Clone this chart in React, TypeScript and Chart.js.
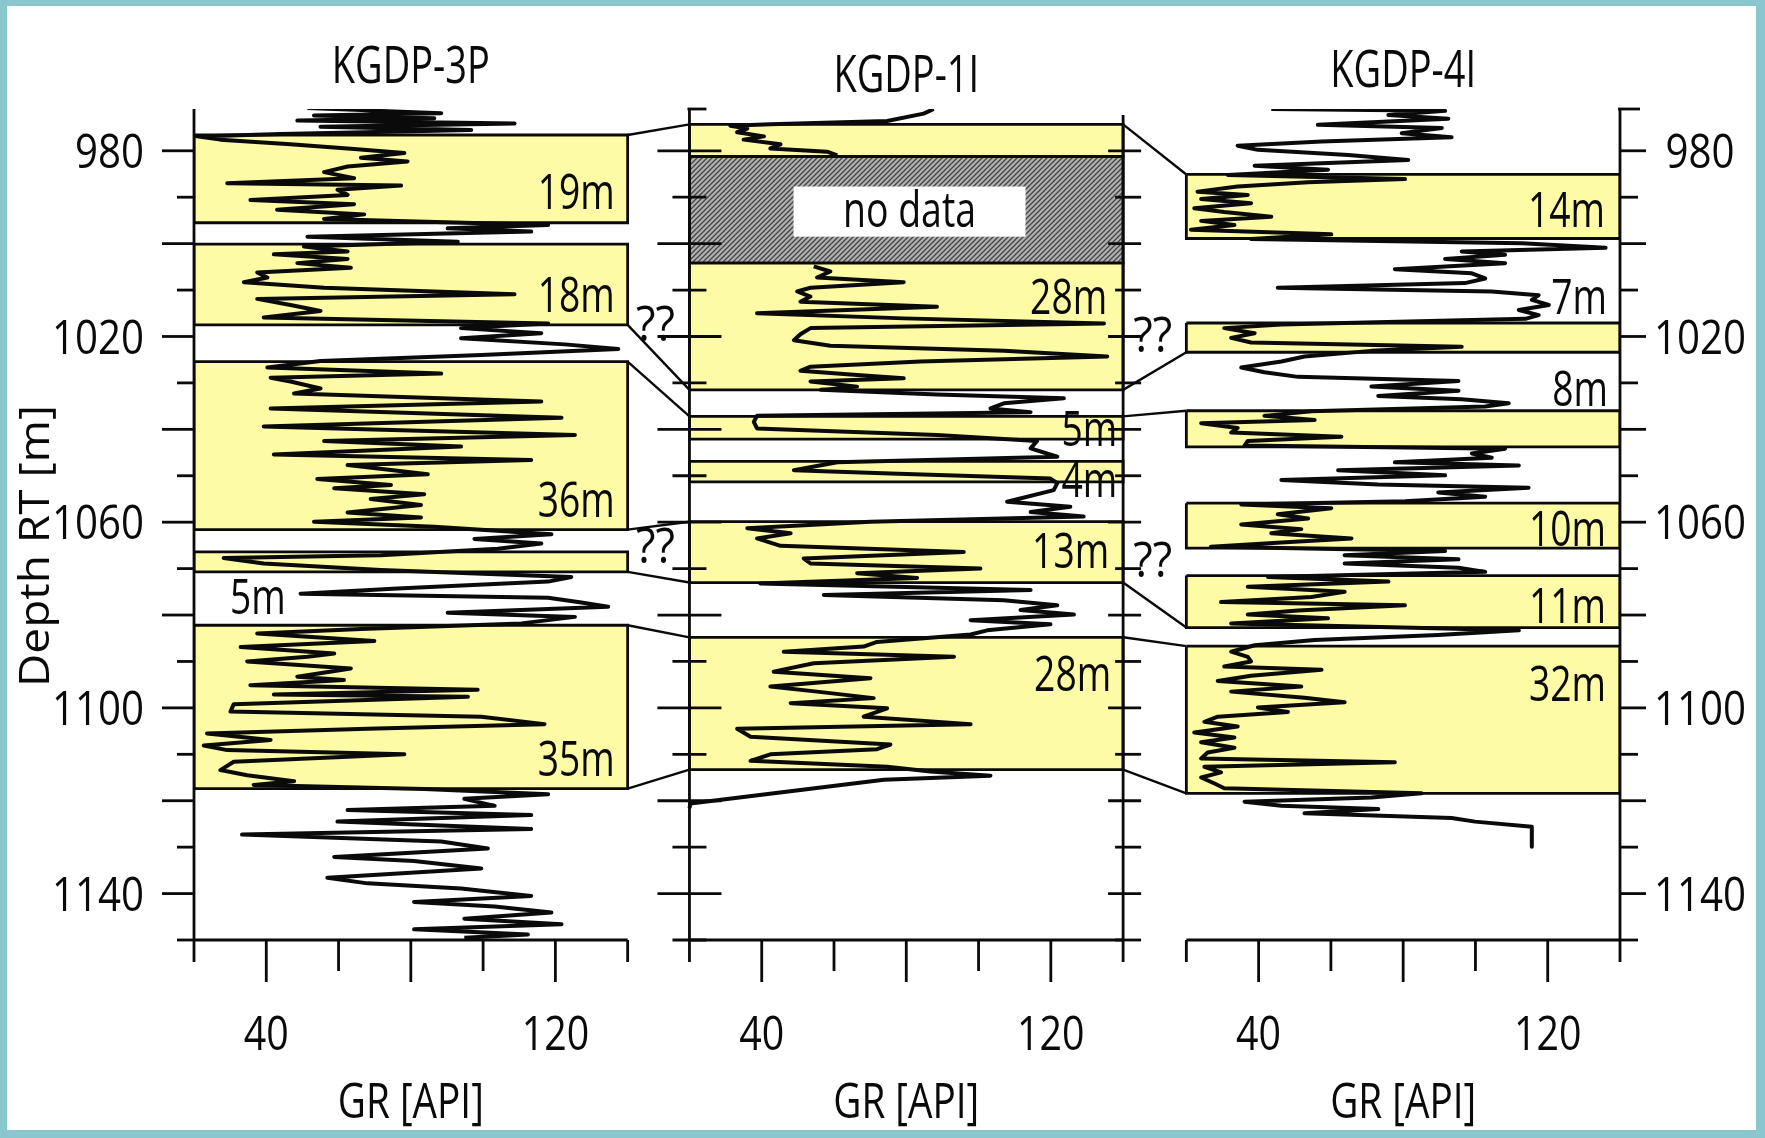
import { useEffect, useRef } from 'react';
import { Chart, registerables } from 'chart.js';

Chart.register(...registerables);

// ---------------- data ----------------
const WELL_NAMES = ['KGDP-3P', 'KGDP-1I', 'KGDP-4I'];
const DEPTH_TICKS = [980, 990, 1000, 1010, 1020, 1030, 1040, 1050, 1060, 1070, 1080, 1090, 1100, 1110, 1120, 1130, 1140, 1150];
const DEPTH_LABELS = [980, 1020, 1060, 1100, 1140];
const GR_TICKS = [20, 40, 60, 80, 100, 120, 140];
const GR_LABELS = [40, 120];
const GR_TITLE = 'GR [API]';
const DEPTH_TITLE = 'Depth RT [m]';
const NO_DATA_TEXT = 'no data';

// [depth m, GR API]
const KGDP3P_LOG = [
  [970.8, 51.4], [971.2, 66.2], [971.5, 73.6], [971.9, 88.4], [972.4, 53.2], [973.0, 86.5], [973.5, 48.6], [974.1, 108.7],
  [974.8, 55.0], [975.5, 96.7], [976.4, 44.0], [976.9, 20.8], [977.6, 27.3], [978.6, 46.7], [979.6, 64.3], [980.5, 78.2],
  [981.5, 66.2], [982.3, 79.1], [983.4, 62.5], [984.6, 56.0], [985.9, 64.3], [987.0, 29.2], [987.5, 77.3], [988.4, 59.7],
  [989.5, 62.5], [990.6, 35.6], [991.5, 64.3], [992.7, 43.0], [993.7, 67.1], [994.7, 56.0], [996.0, 118.0], [996.7, 90.2],
  [997.4, 113.3], [998.5, 51.4], [999.6, 93.0], [1000.6, 50.4], [1001.7, 62.5], [1002.3, 42.1], [1003.3, 62.5], [1004.2, 48.6],
  [1005.2, 63.4], [1006.2, 37.5], [1007.3, 40.3], [1008.3, 33.8], [1009.5, 56.0], [1010.9, 108.7], [1011.9, 37.5], [1013.2, 46.7],
  [1014.5, 55.0], [1015.9, 39.3], [1017.2, 118.0], [1018.2, 93.9], [1019.3, 116.1], [1020.4, 93.9], [1021.7, 122.6], [1022.7, 137.4],
  [1024.0, 99.5], [1025.3, 55.0], [1026.7, 40.3], [1028.0, 88.4], [1028.9, 41.2], [1029.7, 46.7], [1031.2, 55.0], [1032.3, 47.7],
  [1034.0, 116.1], [1035.5, 41.2], [1037.5, 121.7], [1039.4, 39.3], [1041.2, 125.4], [1042.5, 56.0], [1043.7, 93.9], [1045.4, 42.1],
  [1046.6, 113.3], [1047.7, 62.5], [1049.7, 84.7], [1050.7, 54.1], [1052.0, 74.5], [1052.7, 58.8], [1054.0, 83.7], [1055.0, 68.9],
  [1056.3, 82.8], [1057.9, 62.5], [1059.0, 82.8], [1059.9, 53.2], [1061.0, 86.5], [1062.6, 118.9], [1063.6, 97.6], [1064.6, 116.1],
  [1065.7, 104.1], [1067.1, 71.7], [1067.7, 28.2], [1068.9, 39.3], [1070.3, 71.7], [1071.8, 124.4], [1072.8, 118.0], [1074.3, 76.3],
  [1075.4, 49.5], [1076.3, 118.0], [1077.3, 127.2], [1078.2, 134.6], [1079.5, 90.2], [1080.4, 125.4], [1081.8, 110.6], [1083.0, 66.2],
  [1084.0, 37.5], [1085.6, 69.9], [1086.9, 32.9], [1088.3, 58.8], [1089.0, 51.4], [1090.0, 34.7], [1091.5, 63.4], [1093.3, 48.6],
  [1094.0, 61.5], [1095.1, 35.6], [1096.1, 98.5], [1097.1, 42.1], [1097.6, 95.8], [1099.2, 31.0], [1100.8, 30.1], [1101.9, 99.5],
  [1103.5, 117.0], [1104.5, 68.0], [1105.5, 23.6], [1106.9, 41.2], [1108.1, 22.7], [1109.1, 29.2], [1110.0, 78.2], [1111.6, 31.0],
  [1113.4, 27.3], [1114.5, 34.7], [1115.8, 47.7], [1116.6, 36.5], [1117.5, 83.7], [1118.6, 118.0], [1119.6, 94.8], [1121.1, 103.2],
  [1122.0, 62.5], [1123.1, 113.3], [1124.5, 59.7], [1126.1, 113.3], [1127.3, 33.3], [1128.8, 88.4], [1130.3, 101.3], [1132.1, 58.8],
  [1133.0, 80.9], [1134.6, 99.5], [1136.6, 56.9], [1137.8, 68.0], [1138.9, 93.9], [1140.5, 113.3], [1141.8, 80.9], [1142.8, 103.2],
  [1144.1, 118.9], [1145.4, 94.8], [1146.6, 121.7], [1147.7, 80.9], [1148.8, 112.4], [1149.5, 94.8],
];

const KGDP1I_LOG_UPPER = [
  [971.0, 87.6], [972.0, 84.8], [973.6, 74.7], [974.3, 42.4], [974.6, 31.3], [975.2, 36.0], [976.0, 33.2], [976.9, 40.6],
  [977.6, 35.0], [978.6, 45.2], [979.5, 42.4], [980.2, 58.1], [981.0, 60.9],
];

const KGDP1I_LOG = [
  [1004.9, 54.4], [1006.0, 59.0], [1007.3, 55.3], [1008.3, 79.3], [1009.5, 53.5], [1010.3, 49.8], [1011.4, 53.5], [1012.5, 50.7],
  [1013.6, 88.5], [1015.0, 38.7], [1016.1, 79.3], [1017.2, 134.7], [1018.2, 53.5], [1019.5, 50.7], [1020.8, 48.9], [1022.0, 59.0],
  [1023.1, 107.0], [1024.3, 135.6], [1025.4, 83.9], [1026.5, 53.5], [1027.4, 50.7], [1028.3, 66.4], [1029.0, 79.3], [1029.7, 53.5],
  [1030.8, 66.4], [1031.5, 56.3], [1032.5, 88.5], [1033.3, 123.6], [1034.4, 107.0], [1035.5, 103.3], [1036.3, 114.4], [1037.1, 38.7],
  [1038.4, 37.8], [1039.8, 38.7], [1041.2, 88.5], [1042.5, 116.2], [1044.1, 114.4], [1045.9, 121.8], [1047.1, 60.9], [1048.8, 48.9],
  [1049.5, 75.6], [1050.6, 119.9], [1051.6, 121.8], [1053.1, 120.8], [1055.6, 107.9], [1056.7, 125.4], [1057.8, 114.4], [1058.8, 129.1],
  [1059.9, 70.1], [1061.3, 36.0], [1062.4, 48.0], [1063.5, 38.7], [1065.1, 45.2], [1066.4, 95.9], [1067.8, 51.6], [1068.9, 53.5],
  [1070.0, 100.5], [1071.0, 66.4], [1072.0, 83.0], [1073.2, 39.6], [1074.6, 114.4], [1075.7, 57.2], [1076.8, 107.0], [1077.9, 121.8],
  [1078.9, 111.6], [1079.9, 126.4], [1081.1, 97.8], [1082.0, 119.9], [1083.3, 102.4], [1084.2, 97.8], [1085.8, 71.9], [1086.8, 68.2],
  [1087.9, 46.1], [1089.0, 93.2], [1090.4, 54.4], [1092.2, 43.3], [1093.6, 70.1], [1095.4, 42.4], [1096.5, 55.3], [1097.9, 71.0],
  [1099.0, 48.0], [1100.1, 74.7], [1101.9, 68.2], [1103.5, 97.8], [1104.5, 33.2], [1106.2, 36.9], [1107.9, 75.6], [1108.9, 71.9],
  [1110.0, 42.4], [1111.4, 36.9], [1112.7, 74.7], [1113.7, 86.7], [1114.6, 103.3], [1115.5, 73.8], [1120.6, 20.3], [1121.6, 20.0],
];

const KGDP4I_LOG = [
  [971.0, 43.5], [971.4, 91.6], [972.3, 75.9], [973.1, 92.5], [974.4, 56.4], [975.1, 90.7], [976.2, 79.6], [977.1, 93.4],
  [978.0, 57.4], [978.9, 34.2], [979.8, 39.8], [980.9, 64.8], [982.0, 81.4], [983.2, 38.9], [984.1, 59.2], [985.2, 31.5],
  [986.1, 80.5], [986.8, 53.7], [987.7, 34.2], [988.8, 23.1], [989.5, 37.0], [990.4, 24.1], [991.3, 37.9], [992.4, 22.2],
  [993.2, 30.5], [994.2, 43.5], [995.1, 24.1], [996.0, 33.3], [997.0, 21.3], [998.0, 60.1], [999.0, 37.9], [999.9, 112.9],
  [1000.9, 136.0], [1001.7, 96.2], [1002.4, 108.2], [1003.3, 91.6], [1004.2, 108.2], [1005.5, 77.7], [1006.4, 99.0], [1007.5, 102.7],
  [1008.5, 97.1], [1009.5, 45.3], [1010.3, 104.5], [1011.1, 117.5], [1012.1, 115.6], [1013.2, 120.3], [1014.3, 112.0], [1015.4, 117.5],
  [1016.2, 113.8], [1017.4, 46.3], [1018.2, 30.5], [1019.3, 38.9], [1020.3, 32.4], [1021.3, 37.9], [1022.2, 96.2], [1023.1, 71.2],
  [1024.3, 52.7], [1025.4, 46.3], [1026.7, 35.2], [1027.7, 41.6], [1028.7, 50.9], [1029.6, 95.3], [1030.8, 71.2], [1031.7, 95.3],
  [1032.8, 73.1], [1033.5, 96.2], [1034.4, 109.2], [1035.1, 102.7], [1036.1, 54.6], [1037.1, 41.6], [1038.0, 55.5], [1038.7, 24.1],
  [1039.7, 34.2], [1040.7, 32.4], [1041.6, 62.9], [1042.5, 37.0], [1043.5, 36.1], [1044.2, 108.2], [1045.2, 99.0], [1046.1, 104.5],
  [1047.1, 77.7], [1047.8, 112.0], [1048.8, 62.0], [1049.9, 91.6], [1050.9, 46.3], [1051.9, 73.1], [1052.6, 114.7], [1053.6, 89.7],
  [1054.5, 102.7], [1055.5, 80.5], [1056.2, 35.2], [1057.0, 60.1], [1058.3, 45.3], [1059.2, 53.7], [1060.5, 35.2], [1061.5, 51.8],
  [1062.4, 43.5], [1063.5, 65.7], [1064.4, 46.3], [1065.3, 26.8], [1066.2, 91.6], [1067.1, 63.8], [1068.0, 95.3], [1068.9, 63.8],
  [1069.8, 95.3], [1070.7, 102.7], [1071.8, 42.6], [1072.8, 75.9], [1073.9, 37.0], [1075.0, 63.8], [1076.1, 54.6], [1077.2, 29.6],
  [1077.9, 80.5], [1079.0, 50.9], [1079.9, 37.0], [1080.7, 59.2], [1081.8, 32.4], [1083.3, 112.0], [1084.3, 89.7], [1085.4, 55.5],
  [1086.5, 38.9], [1087.9, 32.4], [1089.0, 37.0], [1090.0, 37.9], [1091.1, 30.5], [1091.8, 57.4], [1093.1, 37.9], [1094.2, 28.7],
  [1095.4, 51.8], [1096.5, 32.4], [1097.8, 52.7], [1098.8, 63.8], [1099.9, 39.8], [1100.9, 48.1], [1101.9, 28.7], [1103.0, 25.0],
  [1104.0, 34.2], [1105.3, 22.2], [1106.4, 33.3], [1107.4, 24.1], [1108.6, 33.3], [1109.6, 25.9], [1110.9, 24.1], [1111.7, 77.7],
  [1112.7, 25.0], [1113.9, 29.6], [1115.0, 24.1], [1116.3, 27.8], [1117.3, 30.5], [1118.4, 85.1], [1119.3, 71.2], [1120.2, 36.1],
  [1121.1, 46.3], [1121.8, 73.1], [1122.7, 52.7], [1123.7, 93.4], [1124.5, 99.9], [1125.6, 115.6], [1129.9, 115.6],
];

// sand intervals [top, base] in m
const KGDP3P_SANDS = [[976.6, 995.5], [1000.1, 1017.5], [1025.4, 1061.6], [1066.4, 1070.7], [1082.2, 1117.4]];
const KGDP1I_SANDS = [[974.3, 981.2], [1004.2, 1031.5], [1037.2, 1042.1], [1046.9, 1051.3], [1059.9, 1073.0], [1084.8, 1113.3]];
const KGDP4I_SANDS = [[985.1, 998.9], [1017.1, 1023.4], [1036.0, 1043.8], [1055.9, 1065.6], [1071.5, 1082.7], [1086.7, 1118.4]];
const KGDP1I_NO_DATA = [981.2, 1004.2];

// thickness labels [text, depth]
const KGDP3P_THICKNESS = [['19m', 988.8], ['18m', 1011.0], ['36m', 1055.2], ['35m', 1110.9]];
const KGDP3P_GAP_THICKNESS = [['5m', 1076.1]];
const KGDP1I_THICKNESS = [['28m', 1011.4], ['5m', 1039.8], ['4m', 1050.9], ['13m', 1066.0], ['28m', 1092.6]];
const KGDP4I_THICKNESS = [['14m', 992.7], ['7m', 1011.4], ['8m', 1031.2], ['10m', 1061.3], ['11m', 1077.9], ['32m', 1094.7]];

// correlation lines [depth left well, depth right well]
const CORRELATION_3P_1I = [[976.6, 974.3], [1017.5, 1031.5], [1025.4, 1037.2], [1061.6, 1059.9], [1070.7, 1073.0], [1082.2, 1084.8], [1117.4, 1113.3]];
const CORRELATION_1I_4I = [[974.3, 985.1], [1031.5, 1023.4], [1037.2, 1036.0], [1073.0, 1082.7], [1084.8, 1086.7], [1113.3, 1118.4]];
const UNCERTAIN_3P_1I = [1017.1, 1065.0];
const UNCERTAIN_1I_4I = [1019.5, 1068.0];

// ---------------- layout / style ----------------
const W = 1765;
const H = 1138;
const GR_MIN = 20;
const GR_MAX = 140;
const DEPTH_MIN = 971;
const DEPTH_MAX = 1150;
const OFFSETS = [0, 137.1, 274.6];
const TEAL = '#8AC6CE';
const SAND = '#FDFBA6';
const INK = '#0a0a0a';
const FONT = '"Open Sans", "Liberation Sans", sans-serif';

const toXY = (log: number[][], p: number) => log.map(([d, g]) => ({ x: g + OFFSETS[p], y: d }));
const boxPts = (top: number, base: number, p: number) => [
  { x: GR_MIN + OFFSETS[p], y: top },
  { x: GR_MAX + OFFSETS[p], y: top },
  { x: GR_MAX + OFFSETS[p], y: base },
  { x: GR_MIN + OFFSETS[p], y: base },
  { x: GR_MIN + OFFSETS[p], y: top },
];

function makeHatch(): CanvasPattern | string {
  const c = document.createElement('canvas');
  c.width = 5;
  c.height = 5;
  const g = c.getContext('2d');
  if (!g) return '#999';
  g.fillStyle = '#b0b0b0';
  g.fillRect(0, 0, 5, 5);
  g.strokeStyle = '#444444';
  g.lineWidth = 1.3;
  g.beginPath();
  g.moveTo(-1, 6); g.lineTo(6, -1);
  g.moveTo(-1, 1); g.lineTo(1, -1);
  g.moveTo(4, 6); g.lineTo(6, 4);
  g.stroke();
  const pat = g.createPattern(c, 'repeat');
  return pat || '#999';
}

function drawText(ctx: CanvasRenderingContext2D, s: string, x: number, y: number, size: number, sx: number,
  align: CanvasTextAlign, rot = 0) {
  ctx.save();
  ctx.translate(x, y);
  if (rot) ctx.rotate(rot);
  ctx.scale(sx, 1);
  ctx.font = `${size}px ${FONT}`;
  ctx.textAlign = align;
  ctx.textBaseline = 'alphabetic';
  ctx.fillStyle = INK;
  ctx.fillText(s, 0, size * 0.357);
  ctx.restore();
}

function fit(ctx: CanvasRenderingContext2D, s: string, size: number, target: number) {
  ctx.font = `${size}px ${FONT}`;
  return target / ctx.measureText(s).width;
}

const furniture = {
  id: 'furniture',
  beforeDraw(chart: any) {
    const ctx = chart.ctx as CanvasRenderingContext2D;
    ctx.save();
    ctx.fillStyle = TEAL;
    ctx.fillRect(0, 0, W, H);
    ctx.fillStyle = '#ffffff';
    ctx.fillRect(7, 6, W - 16, H - 14);
    ctx.restore();
  },
  afterDatasetsDraw(chart: any) {
    const ctx = chart.ctx as CanvasRenderingContext2D;
    const xs = chart.scales.x;
    const ys = chart.scales.y;
    const px = (g: number, p: number) => xs.getPixelForValue(g + OFFSETS[p]);
    const py = (d: number) => ys.getPixelForValue(d);
    const yTop = py(DEPTH_MIN);
    const yBot = py(DEPTH_MAX);
    ctx.save();
    ctx.strokeStyle = INK;
    ctx.lineWidth = 2.8;
    ctx.lineCap = 'butt';
    const seg = (x1: number, y1: number, x2: number, y2: number) => {
      ctx.beginPath();
      ctx.moveTo(x1, y1);
      ctx.lineTo(x2, y2);
      ctx.stroke();
    };

    // "no data" box
    const ndTop = 987.7, ndBot = 998.5;
    const ndL = px(48.8, 1), ndR = px(113, 1);
    ctx.fillStyle = '#ffffff';
    ctx.fillRect(ndL, py(ndTop), ndR - ndL, py(ndBot) - py(ndTop));
    const sNo = fit(ctx, NO_DATA_TEXT, 49, 133);
    drawText(ctx, NO_DATA_TEXT, (ndL + ndR) / 2, (py(ndTop) + py(ndBot)) / 2 - 2, 49, sNo, 'center');

    // panel 1 left axis
    const l1 = px(GR_MIN, 0);
    seg(l1, yTop, l1, yBot);
    DEPTH_TICKS.forEach((d) => {
      const m = d % 20 === 0;
      seg(l1 - (m ? 32 : 17), py(d), l1, py(d));
    });
    // panel 2 both sides
    const l2 = px(GR_MIN, 1);
    const r2 = px(GR_MAX, 1);
    seg(l2, yTop, l2, yBot);
    seg(r2, yTop + 6, r2, yBot);
    seg(l2 - 2, yTop, l2 + 17, yTop);
    DEPTH_TICKS.forEach((d) => {
      const m = d % 20 === 0;
      seg(l2 - (m ? 32 : 17), py(d), l2 + (m ? 32 : 17), py(d));
      seg(r2 - (m ? 15 : 8), py(d), r2 + 18, py(d));
    });
    // panel 3 right axis
    const r3 = px(GR_MAX, 2);
    seg(r3, yTop, r3, yBot);
    seg(r3 - 2, yTop, r3 + 20, yTop);
    DEPTH_TICKS.forEach((d) => {
      const m = d % 20 === 0;
      seg(r3, py(d), r3 + (m ? 26 : 18), py(d));
    });
    // bottom axes
    for (let p = 0; p < 3; p++) {
      seg(px(GR_MIN, p), yBot, px(GR_MAX, p), yBot);
      GR_TICKS.forEach((g) => {
        const len = g === GR_MIN || g === GR_MAX ? 22 : g % 40 === 0 ? 42 : 31;
        seg(px(g, p), yBot, px(g, p), yBot + len);
      });
    }

    // depth labels
    const sTick = fit(ctx, '980', 48, 69);
    DEPTH_LABELS.forEach((d) => {
      drawText(ctx, String(d), l1 - 50, py(d), 48, sTick, 'right');
      drawText(ctx, String(d), r3 + 80, py(d), 48, sTick, 'center');
    });
    // GR labels
    const sGr = fit(ctx, '40', 47, 45);
    const sGrT = fit(ctx, GR_TITLE, 49, 146);
    const sTitle = fit(ctx, WELL_NAMES[0], 51, 158);
    const titleY = [65, 74, 69];
    for (let p = 0; p < 3; p++) {
      GR_LABELS.forEach((g) => drawText(ctx, String(g), px(g, p), 1033, 47, sGr, 'center'));
      drawText(ctx, GR_TITLE, px(80, p), 1101, 49, sGrT, 'center');
      drawText(ctx, WELL_NAMES[p], px(80, p), titleY[p], 51, sTitle, 'center');
    }
    // depth title
    const sDepth = fit(ctx, DEPTH_TITLE, 42, 282);
    drawText(ctx, DEPTH_TITLE, 34, 546, 42, sDepth, 'center', -Math.PI / 2);

    // thickness labels
    const sTh = fit(ctx, '19m', 49, 77);
    KGDP3P_THICKNESS.forEach(([t, d]) => drawText(ctx, t as string, px(GR_MAX, 0) - 13, py(d as number), 49, sTh, 'right'));
    KGDP3P_GAP_THICKNESS.forEach(([t, d]) => drawText(ctx, t as string, px(GR_MIN, 0) + 36, py(d as number), 49, sTh, 'left'));
    const inset1 = [16, 6, 6, 14, 12];
    KGDP1I_THICKNESS.forEach(([t, d], i) => drawText(ctx, t as string, px(GR_MAX, 1) - inset1[i], py(d as number), 49, sTh, 'right'));
    const inset3 = [15, 13, 12, 14, 14, 14];
    KGDP4I_THICKNESS.forEach(([t, d], i) => drawText(ctx, t as string, px(GR_MAX, 2) - inset3[i], py(d as number), 49, sTh, 'right'));

    // uncertain correlation marks
    const sQ = fit(ctx, '??', 49, 39);
    UNCERTAIN_3P_1I.forEach((d) => drawText(ctx, '??', (px(GR_MAX, 0) + px(GR_MIN, 1)) / 2 - 3, py(d), 49, sQ, 'center'));
    UNCERTAIN_1I_4I.forEach((d) => drawText(ctx, '??', (px(GR_MAX, 1) + px(GR_MIN, 2)) / 2 - 2, py(d), 49, sQ, 'center'));
    ctx.restore();
  },
};

export default function App() {
  const ref = useRef<HTMLCanvasElement | null>(null);
  useEffect(() => {
    const canvas = ref.current;
    if (!canvas) return;
    const hatch = makeHatch();
    const datasets: any[] = [];
    const sandSets: [number[][], number][] = [[KGDP3P_SANDS, 0], [KGDP1I_SANDS, 1], [KGDP4I_SANDS, 2]];
    sandSets.forEach(([list, p]) => {
      list.forEach(([t, b]) => {
        datasets.push({
          data: boxPts(t, b, p), showLine: true, fill: 'shape', backgroundColor: SAND,
          borderColor: INK, borderWidth: 2.8, pointRadius: 0, order: 5,
        });
      });
    });
    datasets.push({
      data: boxPts(KGDP1I_NO_DATA[0], KGDP1I_NO_DATA[1], 1), showLine: true, fill: 'shape', backgroundColor: hatch,
      borderColor: INK, borderWidth: 2.8, pointRadius: 0, order: 5,
    });
    CORRELATION_3P_1I.forEach(([a, b]) => {
      datasets.push({
        data: [{ x: GR_MAX + OFFSETS[0], y: a }, { x: GR_MIN + OFFSETS[1], y: b }], showLine: true,
        borderColor: INK, borderWidth: 2.4, pointRadius: 0, order: 3, fill: false,
      });
    });
    CORRELATION_1I_4I.forEach(([a, b]) => {
      datasets.push({
        data: [{ x: GR_MAX + OFFSETS[1], y: a }, { x: GR_MIN + OFFSETS[2], y: b }], showLine: true,
        borderColor: INK, borderWidth: 2.4, pointRadius: 0, order: 3, fill: false,
      });
    });
    const logs: [number[][], number][] = [[KGDP3P_LOG, 0], [KGDP1I_LOG_UPPER, 1], [KGDP1I_LOG, 1], [KGDP4I_LOG, 2]];
    logs.forEach(([log, p]) => {
      datasets.push({
        data: toXY(log, p), showLine: true, fill: false, borderColor: INK, borderWidth: 4,
        borderJoinStyle: 'round', pointRadius: 0, order: 1,
      });
    });

    const chart = new Chart(canvas, {
      type: 'scatter',
      data: { datasets },
      options: {
        responsive: false,
        animation: false,
        devicePixelRatio: 1,
        events: [],
        layout: { padding: { left: 194, right: 145, top: 109, bottom: 198 } },
        scales: {
          x: { type: 'linear', min: GR_MIN, max: GR_MAX + OFFSETS[2], display: false },
          y: { type: 'linear', min: DEPTH_MIN, max: DEPTH_MAX, reverse: true, display: false },
        },
        plugins: { legend: { display: false }, tooltip: { enabled: false } },
        elements: { line: { tension: 0 }, point: { radius: 0 } },
      },
      plugins: [furniture],
    } as any);
    return () => chart.destroy();
  }, []);
  return (
    <div style={{ position: 'fixed', left: 0, top: 0, width: W, height: H }}>
      <canvas ref={ref} width={W} height={H} style={{ display: 'block', width: W, height: H }} />
    </div>
  );
}
